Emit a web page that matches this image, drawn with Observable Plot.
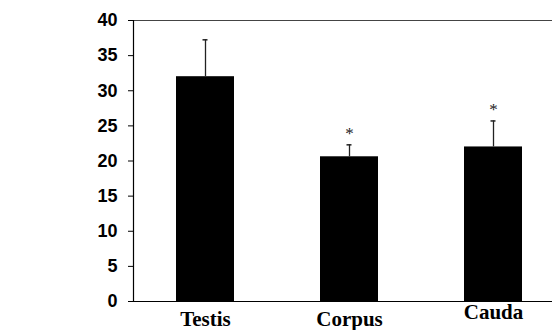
<!DOCTYPE html>
<html>
<head>
<meta charset="utf-8">
<script src="https://cdn.jsdelivr.net/npm/d3@7"></script>
<script src="https://cdn.jsdelivr.net/npm/@observablehq/plot@0.6"></script>
<style>
  html, body { margin: 0; padding: 0; background: #fff; }
</style>
</head>
<body>
<div id="chart"></div>
<script>
const categories = ["Testis", "Corpus", "Cauda"];
const means = [32.0, 20.6, 22.0];
const upper = [37.25, 22.3, 25.7];
const marks = ["", "*", "*"];
const yTicks = [0, 5, 10, 15, 20, 25, 30, 35, 40];

const data = categories.map((c, i) => ({cat: c, mean: means[i], upper: upper[i], mark: marks[i]}));

const serif = "'Liberation Serif', 'Times New Roman', serif";
const sans = "'Liberation Sans', Arial, sans-serif";

const chart = Plot.plot({
  width: 552,
  height: 330,
  marginLeft: 133,
  marginRight: 0,
  marginTop: 20,
  marginBottom: 29,
  style: {background: "#fff", color: "#000"},
  x: {type: "band", domain: categories, range: [133, 565], paddingInner: 0.597, paddingOuter: 0.2985, axis: null},
  y: {domain: [0, 40], axis: null},
  marks: [
    Plot.barY(data, {x: "cat", y: "mean", fill: "#000"}),
    Plot.ruleX(data, {x: "cat", y1: "mean", y2: "upper", stroke: "#222", strokeWidth: 1.3}),
    Plot.tickY(data, {x: "cat", y: "upper", stroke: "#222", strokeWidth: 1.5, insetLeft: 26.5, insetRight: 26.5}),
    Plot.text(data.filter(d => d.mark), {x: "cat", y: "upper", text: "mark", dy: -11, fontSize: 17, fontFamily: serif, fill: "#222"}),
    Plot.axisY({ticks: yTicks, tickSize: 5, tickPadding: 11, fontSize: 18, fontWeight: "bold", fontFamily: sans, tickFormat: d => String(d), label: null, stroke: "#000"}),
    Plot.ruleY([0], {stroke: "#000", strokeWidth: 1.2}),
    Plot.ruleY([40], {stroke: "#444", strokeWidth: 1}),
    Plot.frame({anchor: "left", stroke: "#000", strokeWidth: 1.2}),
    Plot.text(data.filter(d => d.cat !== "Cauda"), {x: "cat", text: "cat", frameAnchor: "bottom", lineAnchor: "middle", dy: 18, fontSize: 21, fontWeight: "bold", fontFamily: serif, fill: "#000"}),
    Plot.text(data.filter(d => d.cat === "Cauda"), {x: "cat", text: "cat", frameAnchor: "bottom", lineAnchor: "middle", dy: 11, fontSize: 21, fontWeight: "bold", fontFamily: serif, fill: "#000"})
  ]
});
document.getElementById("chart").appendChild(chart);
</script>
</body>
</html>
